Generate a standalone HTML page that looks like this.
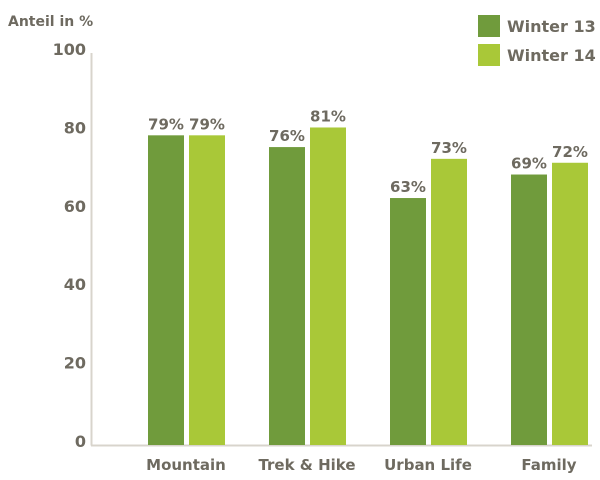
<!DOCTYPE html>
<html><head><meta charset="utf-8"><style>
body{margin:0;background:#fff}
svg text{font-family:"DejaVu Sans","Liberation Sans",sans-serif;font-weight:bold;fill:#6e6a60}
</style></head><body>
<svg width="600" height="475">
<g id="chart"></g>
</svg>
<script>
const categories=["Mountain","Trek & Hike","Urban Life","Family"];
const winter13=[79,76,63,69];
const winter14=[79,81,73,72];
const yTicks=[0,20,40,60,80,100];
const seriesNames=["Winter 13","Winter 14"];
const colors=["#709b3c","#a9c838"];
const NS="http://www.w3.org/2000/svg";
const g=document.getElementById('chart');
const base=445, top100=53;
function y(v){return base-(base-top100)*v/100;}
function groupX(i){return 148+i*121;}
function mk(tag,attrs,txt){const e=document.createElementNS(NS,tag);for(const k in attrs)e.setAttribute(k,attrs[k]);if(txt!==undefined)e.textContent=txt;g.appendChild(e);return e;}
let t=mk('text',{x:8,y:26,'font-size':14},'Anteil in %');


let ax=mk('line',{x1:91.5,y1:top100,x2:91.5,y2:base+0.5,stroke:'#d8d4cc','stroke-width':2});


let bl=mk('line',{x1:91,y1:base+0.5,x2:592,y2:base+0.5,stroke:'#d8d4cc','stroke-width':2});


yTicks.forEach(v=>{
  const e=mk('text',{x:86,y:y(v)+2,'font-size':16,'text-anchor':'end'},String(v));
  
  
});
[winter13,winter14].forEach((s,si)=>{
  s.forEach((v,i)=>{
    const x=groupX(i)+si*41;
    const r=mk('rect',{x:x,y:y(v),width:36,height:base-y(v),fill:colors[si]});
    
    
    const l=mk('text',{x:x+18,y:y(v)-6,'font-size':15,'text-anchor':'middle'},v+'%');
    
    
  });
});
categories.forEach((c,i)=>{
  const e=mk('text',{x:groupX(i)+38,y:470,'font-size':15,'text-anchor':'middle'},c);
  
  
});
seriesNames.forEach((n,i)=>{
  const r=mk('rect',{x:478,y:15+i*29,width:22,height:22,fill:colors[i]});
  
  
  const e=mk('text',{x:507,y:32+i*29,'font-size':16},n);
  
  
});
</script>
</body></html>
